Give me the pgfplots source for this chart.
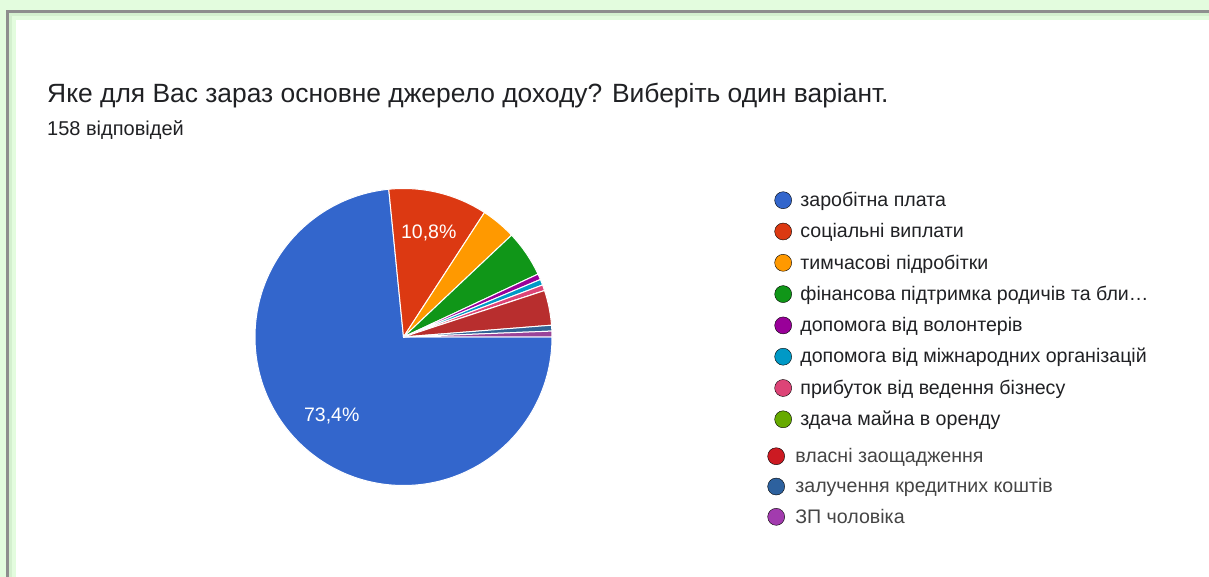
\documentclass[border=0pt]{standalone}
\usepackage{fontspec}
\setmainfont{Liberation Sans}
\usepackage{pgfplots}
\usepackage{pgfplotstable}
\pgfplotsset{compat=1.18}

\definecolor{cBlue}{HTML}{3366CC}
\definecolor{cRed}{HTML}{DC3912}
\definecolor{cOrange}{HTML}{FF9900}
\definecolor{cGreen}{HTML}{109618}
\definecolor{cPurple}{HTML}{990099}
\definecolor{cCyan}{HTML}{0099C6}
\definecolor{cPink}{HTML}{DD4477}
\definecolor{cLime}{HTML}{66AA00}
\definecolor{cDRed}{HTML}{B82E2E}
\definecolor{cDBlue}{HTML}{316395}
\definecolor{cMag}{HTML}{994499}
\definecolor{lRed}{HTML}{CC1A22}
\definecolor{lDBlue}{HTML}{2D619E}
\definecolor{lMag}{HTML}{A23BAE}
\definecolor{bgGreen}{HTML}{E3FCDE}
\definecolor{bandGreen}{HTML}{D4F0CF}
\definecolor{borderGray}{HTML}{8E8E8E}
\definecolor{txt}{HTML}{202124}
\definecolor{txtB}{HTML}{454545}

% responses per answer (158 in total)
\pgfplotstableread{
count color
116 cBlue
17  cRed
6   cOrange
8   cGreen
1   cPurple
1   cCyan
1   cPink
0   cLime
6   cDRed
1   cDBlue
1   cMag
}\piedata

\pgfplotstablegetrowsof{\piedata}
\pgfmathtruncatemacro\nrows{\pgfplotsretval-1}
\def\total{0}
\pgfplotsforeachungrouped \i in {0,...,\nrows}{%
  \pgfplotstablegetelem{\i}{count}\of\piedata
  \pgfmathsetmacro\total{\total+\pgfplotsretval}%
}

\pgfplotsset{
  canvas/.style={
    x=1bp, y=1bp, xmin=0, xmax=1209, ymin=0, ymax=577,
    scale only axis, enlargelimits=false, hide axis, clip=false,
  },
  dot legend/.style={
    legend image code/.code={\fill[##1] (8.5bp,1.8bp) circle[radius=8.5bp];},
  },
}

\begin{document}
\begin{tikzpicture}
\begin{axis}[canvas, dot legend,
  legend cell align=left,
  legend style={at={(axis description cs:0.6406,0.6681)}, anchor=north west,
    draw=none, fill=none, inner sep=0pt, outer sep=0pt, row sep=12.3bp,
    font=\fontsize{19.6bp}{23bp}\selectfont, text=txt,
    nodes={inner sep=0pt, text height=13bp, text depth=4bp},
    /tikz/every odd column/.append style={column sep=8.5bp}},
]
% page background and card
\fill[bgGreen] (axis cs:0,0) rectangle (axis cs:1209,577);
\fill[bandGreen] (axis cs:9,0) rectangle (axis cs:12,564);
\fill[bandGreen] (axis cs:9,561) rectangle (axis cs:1209,564);
\fill[borderGray] (axis cs:6,564) rectangle (axis cs:1209,567);
\fill[borderGray] (axis cs:6,0) rectangle (axis cs:9,567);
\fill[white] (axis cs:16,0) rectangle (axis cs:1209,557);

\node[anchor=base west, inner sep=0pt, text=txt, font=\fontsize{26.4bp}{30bp}\selectfont]
  at (axis cs:47,474.4) {Яке для Вас зараз основне джерело доходу? Виберіть один варіант.};
\node[anchor=base west, inner sep=0pt, text=txt, font=\fontsize{20bp}{24bp}\selectfont]
  at (axis cs:47,441.7) {158 відповідей};

% pie slices, clockwise from 3 o'clock
\def\acc{0}
\pgfplotsforeachungrouped \i in {0,...,\nrows}{%
  \pgfplotstablegetelem{\i}{count}\of\piedata \let\val\pgfplotsretval
  \pgfplotstablegetelem{\i}{color}\of\piedata \let\slicecol\pgfplotsretval
  \pgfmathsetmacro\aS{-\acc/\total*360}%
  \pgfmathsetmacro\aE{-(\acc+\val)/\total*360}%
  \pgfmathsetmacro\aM{(\aS+\aE)/2}%
  \pgfmathsetmacro\pct{100*\val/\total}%
  \pgfmathsetmacro\lx{403.5+0.72*148.5*cos(\aM)}%
  \pgfmathsetmacro\ly{240+0.72*148.5*sin(\aM)}%
  \pgfmathtruncatemacro\showlbl{\pct>=10}%
  \edef\temp{\noexpand\fill[fill=\slicecol, draw=white, line width=1bp, line join=round]
    (axis cs:403.5,240) -- ++(\aS:148.5bp) arc[start angle=\aS, end angle=\aE, radius=148.5bp] -- cycle;}%
  \temp
  \ifnum\showlbl=1
    \edef\temp{\noexpand\node[text=white, font=\noexpand\fontsize{19.5bp}{23bp}\noexpand\selectfont]
      at (axis cs:\lx,\ly) {\noexpand\pgfmathprintnumber[fixed, fixed zerofill, precision=1, use comma, assume math mode=true]{\pct}\noexpand\%};}%
    \temp
  \fi
  \pgfmathsetmacro\acc{\acc+\val}%
}

\addlegendimage{fill=cBlue}\addlegendentry{заробітна плата}
\addlegendimage{fill=cRed}\addlegendentry{соціальні виплати}
\addlegendimage{fill=cOrange}\addlegendentry{тимчасові підробітки}
\addlegendimage{fill=cGreen}\addlegendentry{фінансова підтримка родичів та бли…}
\addlegendimage{fill=cPurple}\addlegendentry{допомога від волонтерів}
\addlegendimage{fill=cCyan}\addlegendentry{допомога від міжнародних організацій}
\addlegendimage{fill=cPink}\addlegendentry{прибуток від ведення бізнесу}
\addlegendimage{fill=cLime}\addlegendentry{здача майна в оренду}
\end{axis}

% second legend block, set a little to the left as in the original
\begin{axis}[canvas, dot legend,
  legend cell align=left,
  legend style={at={(axis description cs:0.6348,0.2244)}, anchor=north west,
    draw=none, fill=none, inner sep=0pt, outer sep=0pt, row sep=11.3bp,
    font=\fontsize{19.6bp}{23bp}\selectfont, text=txtB,
    nodes={inner sep=0pt, text height=13bp, text depth=4bp},
    /tikz/every odd column/.append style={column sep=10.5bp}},
]
\addlegendimage{fill=lRed}\addlegendentry{власні заощадження}
\addlegendimage{fill=lDBlue}\addlegendentry{залучення кредитних коштів}
\addlegendimage{fill=lMag}\addlegendentry{ЗП чоловіка}
\end{axis}
\end{tikzpicture}
\end{document}
